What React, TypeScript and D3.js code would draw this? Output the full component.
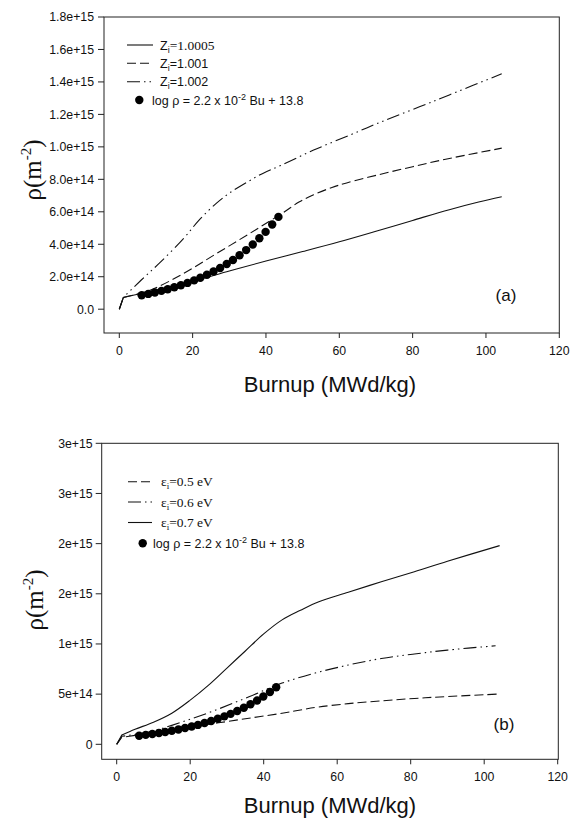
import React from "react";
import * as d3 from "d3";

// ---------- data ----------
const xTicks = [0, 20, 40, 60, 80, 100, 120];

const topYTicks = [0, 2e14, 4e14, 6e14, 8e14, 1e15, 1.2e15, 1.4e15, 1.6e15, 1.8e15];
const topYLabels = ["0.0", "2.0e+14", "4.0e+14", "6.0e+14", "8.0e+14", "1.0e+15", "1.2e+15", "1.4e+15", "1.6e+15", "1.8e+15"];

const botYTicks = [0, 5e14, 1e15, 1.5e15, 2e15, 2.5e15, 3e15];
const botYLabels = ["0", "5e+14", "1e+15", "2e+15", "2e+15", "3e+15", "3e+15"];

// fitted points (log rho = 2.2e-2 Bu + 13.8)
const dotBurnup = [6.1, 7.9, 9.7, 11.5, 13.2, 15.0, 16.8, 18.6, 20.4, 22.1, 23.9, 25.7, 27.5, 29.3, 31.0, 32.8, 34.6, 36.4, 38.2, 39.9, 41.7, 43.4];
const dotRho = [0.859e14, 0.942e14, 1.031e14, 1.13e14, 1.232e14, 1.349e14, 1.478e14, 1.619e14, 1.774e14, 1.933e14, 2.118e14, 2.32e14, 2.541e14, 2.784e14, 3.034e14, 3.323e14, 3.641e14, 3.989e14, 4.37e14, 4.763e14, 5.218e14, 5.687e14];

// panel (a)
const z10005Bu = [0, 1.1, 6, 12, 20, 30, 40, 50, 60, 70, 80, 90, 98, 104.3];
const z10005Rho = [0, 0.72e14, 0.97e14, 1.28e14, 1.72e14, 2.35e14, 2.97e14, 3.55e14, 4.15e14, 4.8e14, 5.47e14, 6.13e14, 6.6e14, 6.93e14];

const z1001Bu = [0, 1.1, 8.4, 17.5, 26.6, 35.6, 44.7, 49, 53, 58, 62, 71, 80, 89, 104.3];
const z1001Rho = [0, 0.72e14, 1.17e14, 2.2e14, 3.44e14, 4.67e14, 5.95e14, 6.6e14, 7.05e14, 7.5e14, 7.78e14, 8.3e14, 8.78e14, 9.24e14, 9.92e14];

const z1002Bu = [0, 1.1, 6, 11, 17.5, 22, 26.6, 30, 35, 39, 44, 53, 63, 71, 80, 90, 104.3];
const z1002Rho = [0, 0.72e14, 1.8e14, 2.85e14, 4.35e14, 5.55e14, 6.55e14, 7.15e14, 7.85e14, 8.35e14, 8.85e14, 9.8e14, 10.74e14, 11.5e14, 12.3e14, 13.2e14, 14.5e14];

// panel (b)
const e05Bu = [0, 1.4, 9, 18, 27, 36, 45, 50, 55, 63, 72, 81, 90, 104.2];
const e05Rho = [0, 0.7e14, 1.1e14, 1.6e14, 2.1e14, 2.6e14, 3.1e14, 3.42e14, 3.72e14, 4.05e14, 4.33e14, 4.57e14, 4.76e14, 5.01e14];

const e06Bu = [0, 1.4, 9, 18, 27, 36, 45, 54, 63, 72, 81, 90, 103.1];
const e06Rho = [0, 0.8e14, 1.25e14, 2.25e14, 3.42e14, 4.74e14, 6.1e14, 7.1e14, 7.9e14, 8.55e14, 9.0e14, 9.39e14, 9.82e14];

const e07Bu = [0, 1.4, 5, 10, 15, 20, 25, 30, 35, 40, 45, 50, 55, 63, 72, 81, 90, 104.2];
const e07Rho = [0, 0.93e14, 1.5e14, 2.2e14, 3.1e14, 4.4e14, 5.9e14, 7.6e14, 9.3e14, 11.0e14, 12.4e14, 13.35e14, 14.2e14, 15.15e14, 16.2e14, 17.2e14, 18.25e14, 19.8e14];

// ---------- styles ----------
const SANS = "'Liberation Sans', Arial, sans-serif";
const SERIF = "'Liberation Serif', 'Times New Roman', serif";
const DASH = "9,4";
const DASHDOTDOT = "13,4,1.5,4,1.5,4";

type Series = { bu: number[]; rho: number[]; dash: string | null };
type LegendItem = { dash: string | null; kind: "line" | "dot"; label: React.ReactNode };

type PanelProps = {
  left: number; right: number; top: number; bottom: number;
  x0px: number;
  xMaxPx: number;
  y0px: number;
  yTopVal: number;
  yTicks: number[]; yLabels: string[];
  series: Series[];
  legend: LegendItem[];
  legendX1: number; legendX2: number; legendTextX: number; legendDotX: number;
  legendY: number[];
  tag: string; tagX: number; tagY: number;
  yTitleX: number; yTitleY: number;
  xTitleY: number;
  labelRight: number;
};

function Panel(p: PanelProps) {
  const x = d3.scaleLinear().domain([0, 120]).range([p.x0px, p.xMaxPx]);
  const y = d3.scaleLinear().domain([0, p.yTopVal]).range([p.y0px, p.top]);
  const smooth = d3
    .line<[number, number]>()
    .x((d) => x(d[0]))
    .y((d) => y(d[1]))
    .curve(d3.curveCatmullRom.alpha(0.5));
  const straight = d3
    .line<[number, number]>()
    .x((d) => x(d[0]))
    .y((d) => y(d[1]));
  return (
    <g>
      {p.series.map((s, i) => {
        const pts = s.bu.map((b, j) => [b, s.rho[j]] as [number, number]);
        // sharp kink: straight start segment, smooth curve afterwards
        const d = (straight(pts.slice(0, 2)) || "") + (smooth(pts.slice(1)) || "").replace(/^M[^C]*/, (m) => "L" + m.slice(1));
        return (
          <path
            key={i}
            d={d}
            fill="none"
            stroke="#111"
            strokeWidth={1.1}
            strokeDasharray={s.dash || undefined}
          />
        );
      })}
      {dotBurnup.map((b, i) => (
        <circle key={i} cx={x(b)} cy={y(dotRho[i])} r={4.2} fill="#000" />
      ))}
      <rect x={p.left} y={p.top} width={p.right - p.left} height={p.bottom - p.top} fill="none" stroke="#222" strokeWidth={1} />
      {p.yTicks.map((t, i) => (
        <g key={i}>
          <line x1={p.left - 6} x2={p.left} y1={y(t)} y2={y(t)} stroke="#222" strokeWidth={1} />
          <text x={p.labelRight} y={y(t) + 4.3} textAnchor="end" fontFamily={SANS} fontSize={12.3} fill="#111">
            {p.yLabels[i]}
          </text>
        </g>
      ))}
      {xTicks.map((t, i) => (
        <g key={i}>
          <line x1={x(t)} x2={x(t)} y1={p.bottom} y2={p.bottom + 5} stroke="#222" strokeWidth={1} />
          <text x={x(t)} y={p.bottom + 22} textAnchor="middle" fontFamily={SANS} fontSize={12.3} fill="#111">
            {t}
          </text>
        </g>
      ))}
      {p.legend.map((l, i) =>
        <g key={i}>
          {l.kind === "line" ? (
            <line x1={p.legendX1} x2={p.legendX2} y1={p.legendY[i]} y2={p.legendY[i]} stroke="#111" strokeWidth={1.1} strokeDasharray={l.dash || undefined} />
          ) : (
            <circle cx={p.legendDotX} cy={p.legendY[i]} r={4.2} fill="#000" />
          )}
          <text x={l.kind === "line" ? p.legendTextX : p.legendTextX - 8} y={p.legendY[i] + 4.5} fontSize={12.5} fill="#111" fontFamily={SANS}>
            {l.label}
          </text>
        </g>
      )}
      <text x={p.tagX} y={p.tagY} textAnchor="middle" fontFamily={SANS} fontSize={17} fill="#111">{p.tag}</text>
      <text transform={`translate(${p.yTitleX},${p.yTitleY}) rotate(-90)`} textAnchor="middle" fontFamily={SERIF} fontSize={25} fill="#111">
        ρ(m<tspan fontSize={15} dy={-10}>-2</tspan><tspan dy={10}>)</tspan>
      </text>
      <text x={330} y={p.xTitleY} textAnchor="middle" fontFamily={SANS} fontSize={22} fill="#111">
        Burnup (MWd/kg)
      </text>
    </g>
  );
}

const fitLabel = (
  <tspan>
    log ρ = 2.2 x 10<tspan fontSize={9} dy={-5}>-2</tspan><tspan dy={5}> Bu + 13.8</tspan>
  </tspan>
);

const zLabel = (val: string, serif: boolean) => (
  <tspan>
    Z<tspan fontSize={9} dy={3}>i</tspan>
    <tspan dy={-3} fontFamily={serif ? SERIF : SANS} fontSize={serif ? 13.5 : 12.5}>=</tspan>
    <tspan fontFamily={serif ? SERIF : SANS} fontSize={serif ? 13.5 : 12.5}>{val}</tspan>
  </tspan>
);

const eLabel = (val: string) => (
  <tspan fontFamily={SERIF} fontSize={13.5}>
    ε<tspan fontSize={9} dy={3}>i</tspan>
    <tspan dy={-3}>={val} eV</tspan>
  </tspan>
);

export default function App() {
  return (
    <svg width={570} height={821} style={{ position: "absolute", left: 0, top: 0, background: "#fff" }}>
      <rect x={0} y={0} width={570} height={821} fill="#fff" />
      <Panel
        left={104} right={559.3} top={17} bottom={333}
        x0px={119.3} xMaxPx={559.3} y0px={309.2} yTopVal={1.8e15}
        yTicks={topYTicks} yLabels={topYLabels}
        series={[
          { bu: z10005Bu, rho: z10005Rho, dash: null },
          { bu: z1001Bu, rho: z1001Rho, dash: DASH },
          { bu: z1002Bu, rho: z1002Rho, dash: DASHDOTDOT },
        ]}
        legend={[
          { kind: "line", dash: null, label: zLabel("1.0005", true) },
          { kind: "line", dash: DASH, label: zLabel("1.001", false) },
          { kind: "line", dash: DASHDOTDOT, label: zLabel("1.002", false) },
          { kind: "dot", dash: null, label: fitLabel },
        ]}
        legendX1={127} legendX2={153} legendTextX={160} legendDotX={139.3}
        legendY={[45, 63.3, 81.7, 100]}
        tag="(a)" tagX={506} tagY={301}
        yTitleX={41} yTitleY={170}
        xTitleY={392}
        labelRight={94}
      />
      <Panel
        left={101.7} right={558.3} top={443.3} bottom={759.3}
        x0px={116.7} xMaxPx={557.7} y0px={744.3} yTopVal={3e15}
        yTicks={botYTicks} yLabels={botYLabels}
        series={[
          { bu: e05Bu, rho: e05Rho, dash: DASH },
          { bu: e06Bu, rho: e06Rho, dash: DASHDOTDOT },
          { bu: e07Bu, rho: e07Rho, dash: null },
        ]}
        legend={[
          { kind: "line", dash: DASH, label: eLabel("0.5") },
          { kind: "line", dash: DASHDOTDOT, label: eLabel("0.6") },
          { kind: "line", dash: null, label: eLabel("0.7") },
          { kind: "dot", dash: null, label: fitLabel },
        ]}
        legendX1={128} legendX2={152} legendTextX={161} legendDotX={142.7}
        legendY={[481.7, 502, 522.5, 543.3]}
        tag="(b)" tagX={504} tagY={730}
        yTitleX={43} yTitleY={600}
        xTitleY={813}
        labelRight={92.7}
      />
    </svg>
  );
}
